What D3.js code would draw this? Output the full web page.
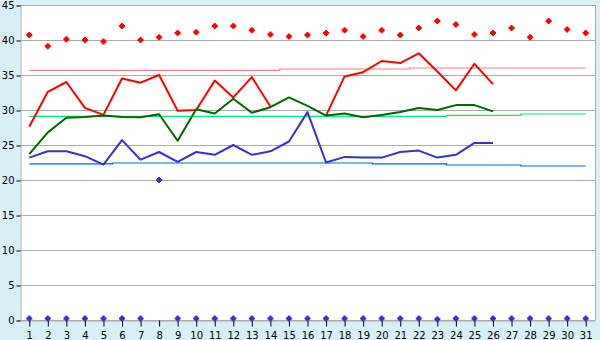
<!DOCTYPE html>
<html>
<head>
<meta charset="utf-8">
<script src="https://cdn.jsdelivr.net/npm/d3@7"></script>
<style>
  body { margin: 0; background: #d9eff6; }
  svg { display: block; }
  text { font-family: "DejaVu Sans", sans-serif; font-size: 10px; fill: #000; }
</style>
</head>
<body>
<svg id="chart"></svg>
<script>
// Days of the month
const days = d3.range(1, 32);

// Daily maxima (red markers)
const maxPoints = [40.7, 39.1, 40.1, 40.0, 39.8, 42.0, 40.0, 40.4, 41.0, 41.1,
    42.0, 42.0, 41.4, 40.8, 40.5, 40.7, 41.0, 41.4, 40.5, 41.4,
    40.7, 41.7, 42.7, 42.2, 40.8, 41.0, 41.7, 40.4, 42.7, 41.5, 41.0];

// Red series (gap at 15, 16)
const redLine = [27.6, 32.6, 34.0, 30.3, 29.3, 34.5, 33.9, 35.0, 29.9, 30.0,
    34.2, 31.8, 34.7, 30.5, null, null, 29.2, 34.8, 35.4, 37.0,
    36.7, 38.1, 35.5, 32.8, 36.6, 33.7];

// Green series
const greenLine = [23.7, 26.8, 28.9, 29.0, 29.2, 29.0, 28.95, 29.4, 25.6, 30.1,
    29.5, 31.6, 29.6, 30.4, 31.8, 30.6, 29.2, 29.5, 28.95, 29.3,
    29.7, 30.3, 30.0, 30.7, 30.7, 29.8];

// Blue series
const blueLine = [23.2, 24.1, 24.1, 23.4, 22.2, 25.7, 22.9, 24.0, 22.6, 24.0,
    23.6, 25.0, 23.6, 24.1, 25.5, 29.7, 22.5, 23.3, 23.2, 23.2,
    24.0, 24.2, 23.2, 23.6, 25.3, 25.3];

// Blue markers
const bluePoints = [0.2, 0.2, 0.2, 0.2, 0.2, 0.2, 0.2, 20.0, 0.2, 0.2,
    0.2, 0.2, 0.2, 0.2, 0.2, 0.2, 0.2, 0.2, 0.2, 0.2,
    0.2, 0.2, 0.1, 0.2, 0.2, 0.2, 0.2, 0.2, 0.2, 0.2, 0.2];

// Reference lines (normals)
const pinkRef = [35.67, 35.67, 35.67, 35.67, 35.67, 35.67, 35.67, 35.67, 35.67, 35.67,
    35.67, 35.67, 35.67, 35.67, 35.86, 35.86, 35.86, 35.86, 35.86, 35.86,
    35.86, 36.0, 36.0, 36.0, 36.0, 36.0, 36.0, 36.0, 36.0, 36.0, 36.0];
const greenRef = [29.1, 29.1, 29.1, 29.1, 29.1, 29.1, 29.1, 29.1, 29.1, 29.1,
    29.1, 29.1, 29.1, 29.1, 29.1, 29.1, 29.1, 29.1, 29.1, 29.1,
    29.1, 29.1, 29.1, 29.24, 29.24, 29.24, 29.24, 29.43, 29.43, 29.43, 29.43];
const blueRef = [22.29, 22.29, 22.29, 22.29, 22.29, 22.43, 22.43, 22.43, 22.43, 22.43,
    22.43, 22.43, 22.43, 22.43, 22.43, 22.43, 22.43, 22.43, 22.43, 22.29,
    22.29, 22.29, 22.29, 22.14, 22.14, 22.14, 22.14, 22.0, 22.0, 22.0, 22.0];

const yTicks = d3.range(0, 50, 5);

const W = 600, H = 340;
const margin = { top: 5, right: 5, bottom: 20, left: 20 };

const svg = d3.select('#chart').attr('width', W).attr('height', H);

const x = d3.scaleBand()
    .domain(days)
    .range([margin.left, W - margin.right]);

const y = d3.scaleLinear()
    .domain([0, 45])
    .range([H - margin.bottom, margin.top]);

const cx = d => x(d) + x.bandwidth() / 2;

// Plot background
svg.append('rect')
    .attr('x', margin.left).attr('y', margin.top)
    .attr('width', W - margin.left - margin.right)
    .attr('height', H - margin.bottom - margin.top)
    .attr('fill', '#fff');

// Grid lines
svg.append('g')
    .selectAll('line')
    .data(yTicks)
    .join('line')
    .attr('x1', margin.left).attr('x2', W - margin.right)
    .attr('y1', d => Math.round(y(d)) + 0.5).attr('y2', d => Math.round(y(d)) + 0.5)
    .attr('stroke', '#aaa');

// Right border
svg.append('line')
    .attr('x1', W - margin.right + 0.5).attr('x2', W - margin.right + 0.5)
    .attr('y1', margin.top).attr('y2', H - margin.bottom)
    .attr('stroke', '#aaa');

// Y axis
const yAxis = svg.append('g')
    .attr('transform', `translate(${margin.left + 0.5},0.5)`)
    .call(d3.axisLeft(y).tickValues(yTicks).tickSize(4).tickPadding(2));
yAxis.select('.domain').attr('stroke', '#aaa');
yAxis.selectAll('.tick line').attr('stroke', '#000');

// X axis
const xAxis = svg.append('g')
    .attr('transform', `translate(0.5,${H - margin.bottom + 0.5})`)
    .call(d3.axisBottom(x).tickSize(6).tickPadding(4).tickSizeOuter(0));
xAxis.select('.domain').attr('stroke', '#aaa');
xAxis.selectAll('.tick line').attr('stroke', '#000');
xAxis.selectAll('text').attr('dy', '0.85em');
svg.selectAll('.tick text').style('font-family', '"DejaVu Sans", sans-serif').style('font-size', '10px');

// Reference lines
const stepLine = d3.line()
    .x((d, i) => cx(days[i]))
    .y(d => y(d))
    .curve(d3.curveStep);

[[pinkRef, '#ff7f7f'], [greenRef, '#00ee77'], [blueRef, '#0066ee']].forEach(([vals, col]) => {
    svg.append('path')
        .datum(vals)
        .attr('d', stepLine)
        .attr('fill', 'none')
        .attr('stroke', col)
        .attr('stroke-width', 1.2);
});

// Data lines
const line = d3.line()
    .defined(d => d != null)
    .x((d, i) => cx(days[i]))
    .y(d => y(d));

[[redLine, '#ff0000'], [greenLine, '#006600'], [blueLine, '#3333cc']].forEach(([vals, col]) => {
    svg.append('path')
        .datum(vals)
        .attr('d', line)
        .attr('fill', 'none')
        .attr('stroke', col)
        .attr('stroke-width', 2)
        .attr('stroke-linejoin', 'round');
});

// Markers: small plus with a fat centre
const markerPath = 'M-1,-3H1V-2H2V-1H3V1H2V2H1V3H-1V2H-2V1H-3V-1H-2V-2H-1Z';

svg.append('g')
    .selectAll('path')
    .data(maxPoints)
    .join('path')
    .attr('d', markerPath)
    .attr('transform', (d, i) => `translate(${cx(days[i])},${y(d)})`)
    .attr('fill', '#ff0000');

svg.append('g')
    .selectAll('path')
    .data(bluePoints)
    .join('path')
    .attr('d', markerPath)
    .attr('transform', (d, i) => `translate(${cx(days[i])},${y(d)})`)
    .attr('fill', '#3333cc');
</script>
</body>
</html>
